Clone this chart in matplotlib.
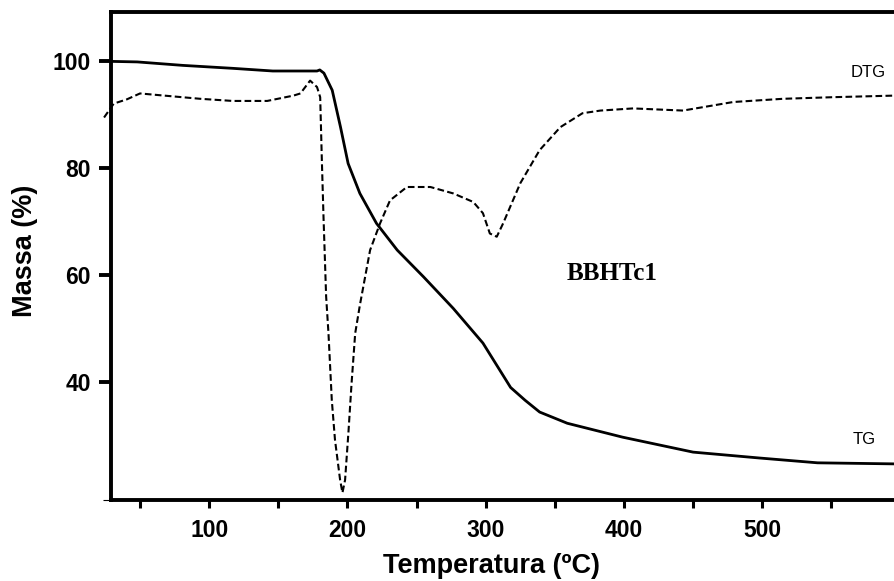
"""
plot.py

TG / DTG curve for sample BBHTc1
"""

import numpy as np
import matplotlib
matplotlib.use("Agg")
import matplotlib.pyplot as plt
from matplotlib.ticker import FixedLocator

# ----------------------------------------------------
# Data
# ----------------------------------------------------

tg_temp = [29, 48, 81, 117, 146, 166, 178, 180, 183, 189, 195, 200.5,
           209, 221, 236, 255, 276.5, 298, 318, 328.5, 339, 359, 399,
           450, 498, 540, 596]
tg_mass = [100, 99.9, 99.25, 98.7, 98.2, 98.2, 98.2, 98.4, 97.8, 94.6,
           87.7, 80.9, 75.3, 69.7, 64.7, 59.7, 53.8, 47.3, 39, 36.6,
           34.4, 32.3, 29.7, 26.9, 25.8, 24.9, 24.7]

dtg_temp = [24, 31, 40.5, 50, 93.5, 117, 142, 161, 166, 173, 178, 180.3,
            181.5, 182.7, 184.6, 186.3, 188.7, 191, 194.7, 196.4, 198.3,
            200.7, 203, 205.6, 209, 216.4, 223.6, 230.8, 243, 260, 276.5,
            291, 298, 303, 308, 312.6, 325, 339, 354, 370, 383, 406.6,
            442.7, 479, 515, 551, 596]
dtg_val = [89.5, 92.1, 92.9, 94.0, 93.0, 92.6, 92.6, 93.6, 94, 96.4,
           95.2, 93.3, 81.5, 70.9, 56, 49.1, 36.6, 29.2, 21.7, 19.3, 21.7,
           30.5, 39.8, 49.1, 54.4, 64.7, 69.7, 74, 76.5, 76.5, 75.3, 73.7,
           71.6, 67.8, 67.2, 69.7, 77.2, 83.4, 87.7, 90.3, 90.8, 91.2,
           90.8, 92.4, 93, 93.3, 93.6]

x_ticks = [100, 200, 300, 400, 500]
x_minor = [50, 150, 250, 350, 450, 550]
y_ticks = [40, 60, 80, 100]

# ----------------------------------------------------
# Figure
# ----------------------------------------------------

plt.rcParams["font.family"] = ["Liberation Sans", "DejaVu Sans"]

fig = plt.figure(figsize=(8.95, 5.81), dpi=100)
ax = fig.add_axes([0.124, 0.139, 0.876, 0.840])

ax.plot(tg_temp, tg_mass, color="black", linewidth=2.0,
        solid_joinstyle="round")

ax.plot(dtg_temp, dtg_val, color="black", linewidth=1.5,
        linestyle=(0, (3.2, 1.6)), clip_on=False)

ax.set_xlim(29, 596)
ax.set_ylim(17.9, 109.2)

# ----------------------------------------------------
# Axes style
# ----------------------------------------------------

for side in ["left", "top", "bottom"]:
    ax.spines[side].set_linewidth(2.8)
ax.spines["right"].set_visible(False)

ax.set_xticks(x_ticks)
ax.xaxis.set_minor_locator(FixedLocator(x_minor))
ax.set_yticks(y_ticks)
ax.yaxis.set_minor_locator(FixedLocator([17.9]))

ax.tick_params(axis="x", which="both", direction="out", length=5.5,
               width=2.2, pad=8, labelsize=16.5)
ax.tick_params(axis="y", which="major", direction="out", length=8.5,
               width=2.8, pad=6, labelsize=16.5)
ax.tick_params(axis="y", which="minor", direction="out", length=6,
               width=0.8)

for lbl in ax.get_xticklabels() + ax.get_yticklabels():
    lbl.set_fontweight("bold")

ax.set_xlabel("Temperatura (ºC)", fontsize=19.5, fontweight="bold")
ax.xaxis.set_label_coords(0.485, -0.108)
ax.set_ylabel("Massa (%)", fontsize=19.5, fontweight="bold")
ax.yaxis.set_label_coords(-0.093, 0.512)

# ----------------------------------------------------
# Curve labels
# ----------------------------------------------------

ax.text(576.7, 97.9, "DTG", fontsize=12, ha="center", va="center")
ax.text(573.4, 29.2, "TG", fontsize=12, ha="center", va="center")
ax.text(391.5, 60.4, "BBHTc1", fontsize=18, fontweight="bold",
        family=["Liberation Serif", "DejaVu Serif"],
        ha="center", va="center")

plt.savefig("out.png", dpi=100)
plt.close()
